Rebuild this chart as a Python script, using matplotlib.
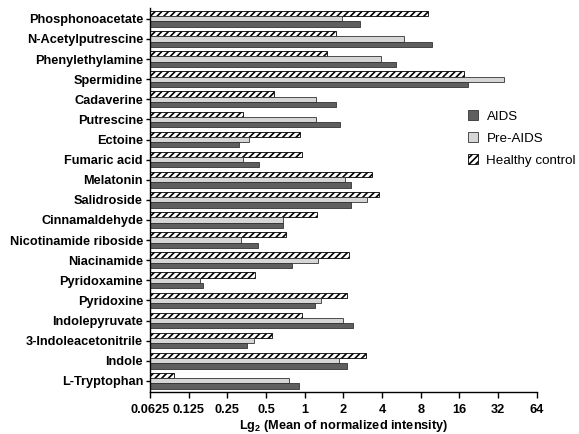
import matplotlib
matplotlib.use("Agg")
import matplotlib.pyplot as plt
import numpy as np

plt.rcParams['font.family'] = ['Liberation Sans', 'DejaVu Sans']
plt.rcParams['mathtext.fontset'] = 'custom'
plt.rcParams['mathtext.rm'] = 'Liberation Sans'
plt.rcParams['mathtext.bf'] = 'Liberation Sans:bold'
plt.rcParams['hatch.linewidth'] = 1.2

categories = ["Phosphonoacetate", "N-Acetylputrescine", "Phenylethylamine", "Spermidine",
              "Cadaverine", "Putrescine", "Ectoine", "Fumaric acid", "Melatonin",
              "Salidroside", "Cinnamaldehyde", "Nicotinamide riboside", "Niacinamide",
              "Pyridoxamine", "Pyridoxine", "Indolepyruvate", "3-Indoleacetonitrile",
              "Indole", "L-Tryptophan"]
healthy = [9.1, 1.75, 1.48, 17.4, 0.575, 0.33, 0.92, 0.95, 3.35, 3.8, 1.25, 0.72, 2.22,
           0.41, 2.12, 0.95, 0.56, 3.01, 0.097]
pre_aids = [1.96, 5.94, 3.9, 35.5, 1.22, 1.22, 0.37, 0.33, 2.07, 3.08, 0.68, 0.32, 1.26,
            0.154, 1.34, 1.99, 0.40, 1.86, 0.76]
aids = [2.69, 9.8, 5.1, 18.7, 1.74, 1.89, 0.31, 0.44, 2.28, 2.3, 0.68, 0.43, 0.79,
        0.163, 1.2, 2.38, 0.354, 2.12, 0.90]
xticks = [0.0625, 0.125, 0.25, 0.5, 1, 2, 4, 8, 16, 32, 64]
xticklabels = ["0.0625", "0.125", "0.25", "0.5", "1", "2", "4", "8", "16", "32", "64"]

xmin = 0.0625
fig = plt.figure(figsize=(5.79, 4.34), dpi=100)
ax = fig.add_axes([0.259, 0.097, 0.668, 0.885])

y = np.arange(len(categories))
h = 0.26
ax.barh(y - h, np.array(healthy) - xmin, left=xmin, height=h, color='white',
        edgecolor='black', hatch='/////', linewidth=0.6, label='Healthy control')
ax.barh(y, np.array(pre_aids) - xmin, left=xmin, height=h, color='#d6d6d6',
        edgecolor='#333333', linewidth=0.6, label='Pre-AIDS')
ax.barh(y + h, np.array(aids) - xmin, left=xmin, height=h, color='#5f5f5f',
        edgecolor='#333333', linewidth=0.6, label='AIDS')

ax.set_xscale('log', base=2)
ax.set_xlim(0.0625, 64)
ax.set_xticks(xticks)
ax.set_xticklabels(xticklabels)
ax.minorticks_off()
ax.set_ylim(len(categories) - 0.45, -0.55)
ax.set_yticks(y)
ax.set_yticklabels(categories)

for lab in ax.get_yticklabels() + ax.get_xticklabels():
    lab.set_fontweight('bold')
    lab.set_fontsize(9.2)

ax.spines['top'].set_visible(False)
ax.spines['right'].set_visible(False)
ax.spines['left'].set_linewidth(1.0)
ax.spines['bottom'].set_linewidth(1.0)
ax.tick_params(axis='y', length=3, width=1.0, pad=2)
ax.tick_params(axis='x', length=4, width=1.0, pad=5)

ax.set_xlabel(r'Lg$_{\mathbf{2}}$ (Mean of normalized intensity)', fontsize=9.2,
              fontweight='bold', labelpad=1.5)

handles, labels = ax.get_legend_handles_labels()
order = [2, 1, 0]
ax.legend([handles[i] for i in order], [labels[i] for i in order], frameon=False,
          loc='upper left', bbox_to_anchor=(0.808, 0.748), fontsize=9.6,
          handlelength=0.8, handleheight=0.8, handletextpad=0.6, labelspacing=0.7,
          borderaxespad=0)

fig.savefig('out.png', dpi=100)
